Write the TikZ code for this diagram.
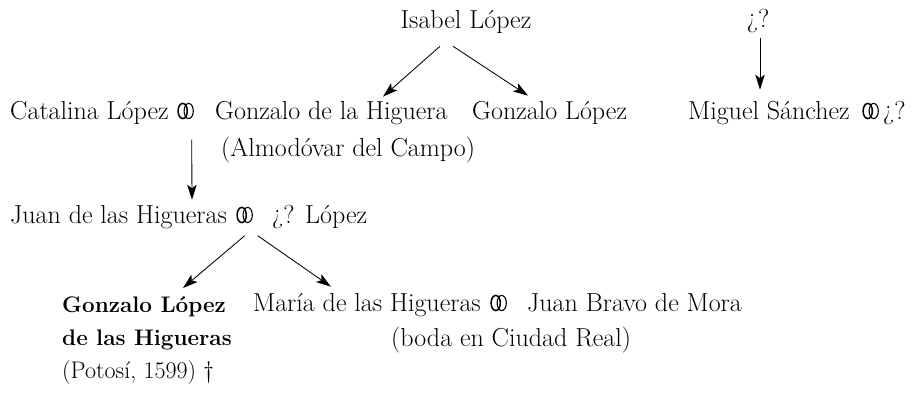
\documentclass[tikz,border=0pt]{standalone}
\usetikzlibrary{arrows.meta,positioning}
\tikzset{
  person/.style={inner sep=0pt,anchor=base west,font=\fontsize{26}{33}\selectfont},
  heir/.style={person,anchor=north west,align=left,font=\fontsize{22.5}{33}\selectfont\bfseries},
  place/.style={person},
  wed/.style={inner sep=0pt,anchor=west,minimum width=17pt,minimum height=17pt,
    path picture={
      \draw[line width=1.5pt] ([xshift=-3pt]path picture bounding box.center) ellipse (4.6pt and 7.6pt);
      \draw[line width=1.1pt] ([xshift=3pt]path picture bounding box.center) ellipse (4.6pt and 7.6pt);
    }},
  descent/.style={-{Stealth[length=15pt,width=9.5pt,inset=3.5pt]},line width=0.85pt}
}

\begin{document}
\begin{tikzpicture}[x=1pt,y=-1pt]
  \useasboundingbox (0,0) rectangle (918,396);
  \node[person,anchor=base] (isabel) at (466,29) {Isabel López};
  \node[person,anchor=base] (miguelparent) at (758,28) {¿?};
  \node[person] (catalina) at (10,119) {Catalina López};
  \node[wed] (w1) at (177,111) {};
  \node[person] (gonzalohig) at (215,119) {Gonzalo de la Higuera};
  \node[place] (almodovar) at (221,156) {(Almodóvar del Campo)};
  \node[person] (gonzalolop) at (472,119) {Gonzalo López};
  \node[person] (miguel) at (688,119) {Miguel Sánchez};
  \node[wed] (w2) at (862,111) {};
  \node[person] (miguelwife) at (883,119) {¿?};
  \node[person] (juan) at (10,223) {Juan de las Higueras};
  \node[wed] (w3) at (236,215) {};
  \node[person] (juanwife) at (272,223) {¿? López};
  \node[heir] (gonzalohij) at (62,296) {Gonzalo López\\de las Higueras\\{\normalfont\fontsize{24}{33}\selectfont (Potosí, 1599) †}};
  \node[person] (maria) at (253,311) {María de las Higueras};
  \node[wed] (w4) at (490,303) {};
  \node[person] (juanbravo) at (527,311) {Juan Bravo de Mora};
  \node[place] (boda) at (391,346) {(boda en Ciudad Real)};
  \draw[descent] ([xshift=-26pt,yshift=-12pt]isabel.south) -- ([xshift=168pt,yshift=4pt]gonzalohig.north west);
  \draw[descent] ([xshift=-13pt,yshift=-12pt]isabel.south) -- ([xshift=56pt,yshift=5pt]gonzalolop.north west);
  \draw[descent] ([xshift=2pt,yshift=-5pt]miguelparent.south) -- ([xshift=72pt,yshift=11pt]miguel.north west);
  \draw[descent] ([xshift=6pt,yshift=-20pt]w1.south) -- ([xshift=182pt,yshift=5pt]juan.north west);
  \draw[descent] ([xshift=0pt,yshift=-12pt]w3.south) -- ([xshift=121pt,yshift=8pt]gonzalohij.north west);
  \draw[descent] ([xshift=13pt,yshift=-12pt]w3.south) -- ([xshift=78pt,yshift=6pt]maria.north west);
\end{tikzpicture}
\end{document}
